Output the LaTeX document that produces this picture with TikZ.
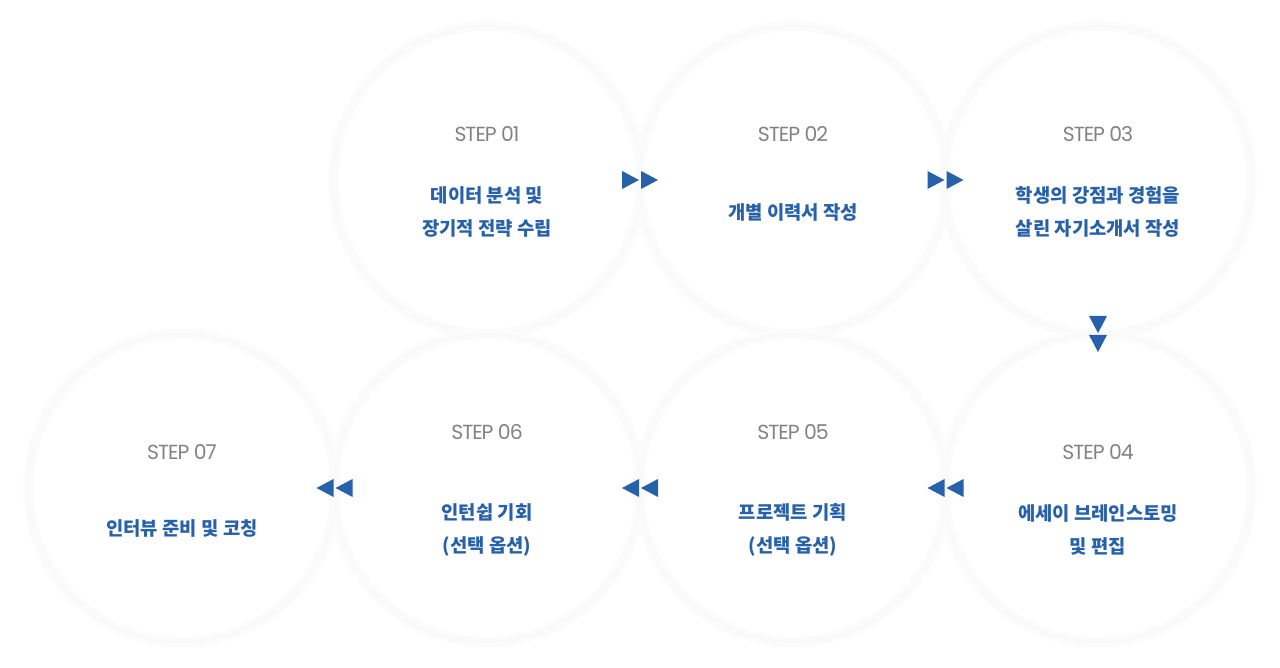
\documentclass[tikz,border=0pt]{standalone}
\usepackage{fontspec}
\usetikzlibrary{calc}
\newfontfamily\kofont{Noto Sans CJK KR}
\newfontfamily\stepfont[LetterSpace=-5]{Poppins}
\definecolor{stepblue}{HTML}{2661A9}
\definecolor{stepgray}{HTML}{828282}

\begin{document}
\begin{tikzpicture}[x=0.5pt,y=-0.5pt,
  ring/.style={circle,minimum size=154pt,inner sep=0pt,draw=black!2.5,line width=0.6pt,preaction={draw=black!1.5,line width=5pt}},
  steplbl/.style={text=stepgray,font=\stepfont\fontsize{10.2}{11}\selectfont},
  body/.style={text=stepblue,align=center,font=\kofont\bfseries\fontsize{9.4}{16.5}\selectfont},
  dbl/.pic={\fill[stepblue] (-18,-9) -- (-1,0) -- (-18,9) -- cycle (1,-9) -- (18,0) -- (1,9) -- cycle;}]
\useasboundingbox (0,0) rectangle (1280,668);

% circles
\node[ring] (s1) at (487,180) {};
\node[ring] (s2) at (793,180) {};
\node[ring] (s3) at (1098,180) {};
\node[ring] (s4) at (1098,488) {};
\node[ring] (s5) at (793,488) {};
\node[ring] (s6) at (487,488) {};
\node[ring] (s7) at (182,488) {};

% labels
\node[steplbl] (t1) at (487,134) {STEP 01};
\node[body] (b1) at (487,211.5) {데이터 분석 및\\장기적 전략 수립};
\node[steplbl] (t2) at (793,134) {STEP 02};
\node[body] (b2) at (793,212) {개별 이력서 작성};
\node[steplbl] (t3) at (1098,134) {STEP 03};
\node[body] (b3) at (1098,211.5) {학생의 강점과 경험을\\살린 자기소개서 작성};
\node[steplbl] (t4) at (1098,452) {STEP 04};
\node[body] (b4) at (1098,529.5) {에세이 브레인스토밍\\및 편집};
\node[steplbl] (t5) at (793,432) {STEP 05};
\node[body] (b5) at (793,529.5) {프로젝트 기획\\(선택 옵션)};
\node[steplbl] (t6) at (487,432) {STEP 06};
\node[body] (b6) at (487,529.5) {인턴쉽 기회\\(선택 옵션)};
\node[steplbl] (t7) at (182,452) {STEP 07};
\node[body] (b7) at (182,528) {인터뷰 준비 및 코칭};

% arrows
\pic at ($(s1.east)!.5!(s2.west)$) {dbl};
\pic at ($(s2.east)!.5!(s3.west)$) {dbl};
\pic[rotate=-90] at ($(s3.south)!.5!(s4.north)$) {dbl};
\foreach \a/\b in {s4/s5,s5/s6,s6/s7}
  \pic[rotate=180] at ($(\a.west)!.5!(\b.east)$) {dbl};
\end{tikzpicture}
\end{document}
